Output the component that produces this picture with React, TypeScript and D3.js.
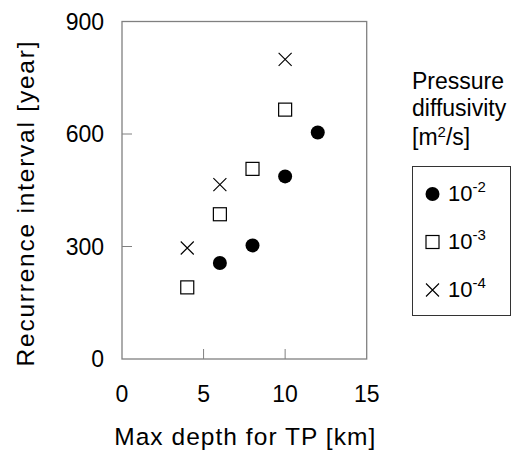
import React from "react";
import * as d3 from "d3";

const depthCircle = [6, 8, 10, 12];
const intervalCircle = [256, 303, 487, 604];
const depthSquare = [4, 6, 8, 10];
const intervalSquare = [191, 386, 507, 665];
const depthCross = [4, 6, 10];
const intervalCross = [296, 465, 799];
const xTicks = [0, 5, 10, 15];
const yTicks = [0, 300, 600, 900];
const legendExps = ["-2", "-3", "-4"];

const FONT = "Liberation Sans, Arial, sans-serif";

export default function App() {
  const x = d3.scaleLinear().domain([0, 15]).range([122, 366.7]);
  const y = d3.scaleLinear().domain([0, 900]).range([359, 21.5]);
  const axisColor = "#808080";

  const circle = (cx: number, cy: number, key: string) => (
    <circle key={key} cx={cx} cy={cy} r={7} fill="#000" />
  );
  const square = (cx: number, cy: number, key: string) => (
    <rect key={key} x={cx - 6.5} y={cy - 6.5} width={13} height={13} fill="#fff" stroke="#000" strokeWidth={1.2} />
  );
  const cross = (cx: number, cy: number, key: string) => (
    <path key={key} d={`M${cx - 6.5},${cy - 6.5}L${cx + 6.5},${cy + 6.5}M${cx - 6.5},${cy + 6.5}L${cx + 6.5},${cy - 6.5}`} stroke="#000" strokeWidth={1.1} fill="none" />
  );

  const legendRows = [194, 242, 290];
  const markers = [circle, square, cross];

  return (
    <svg width={515} height={450} style={{ position: "absolute", left: 0, top: 0 }} fontFamily={FONT}>
      <rect x={0} y={0} width={515} height={450} fill="#fff" />
      <rect x={x(0)} y={y(900)} width={x(15) - x(0)} height={y(0) - y(900)} fill="none" stroke={axisColor} strokeWidth={1.3} />
      {[5, 10].map((t) => (
        <line key={"xt" + t} x1={x(t)} x2={x(t)} y1={y(0)} y2={y(0) - 10} stroke={axisColor} strokeWidth={1} />
      ))}
      {[300, 600].map((t) => (
        <line key={"yt" + t} x1={x(0)} x2={x(0) + 10} y1={y(t)} y2={y(t)} stroke={axisColor} strokeWidth={1} />
      ))}
      {xTicks.map((t) => (
        <text key={"xl" + t} x={x(t)} y={402} textAnchor="middle" fontSize={23} fill="#000">{t}</text>
      ))}
      {yTicks.map((t) => (
        <text key={"yl" + t} x={104} y={y(t) + 8} textAnchor="end" fontSize={23} fill="#000">{t}</text>
      ))}
      <text x={244.7} y={445} textAnchor="middle" fontSize={24.5} fill="#000" textLength={261} lengthAdjust="spacing">Max depth for TP [km]</text>
      <text transform={`translate(34,204) rotate(-90)`} textAnchor="middle" fontSize={24.5} fill="#000" textLength={325} lengthAdjust="spacing">Recurrence interval [year]</text>
      {depthSquare.map((d, i) => square(x(d), y(intervalSquare[i]), "s" + i))}
      {depthCross.map((d, i) => cross(x(d), y(intervalCross[i]), "c" + i))}
      {depthCircle.map((d, i) => circle(x(d), y(intervalCircle[i]), "o" + i))}
      <text x={412} y={88.5} fontSize={23} fill="#000">Pressure</text>
      <text x={412} y={115.5} fontSize={23} fill="#000">diffusivity</text>
      <text x={412} y={145} fontSize={23} fill="#000">
        [m<tspan dy={-8} fontSize={15}>2</tspan><tspan dy={8}>/s]</tspan>
      </text>
      <rect x={412.5} y={166.5} width={98} height={149} fill="#fff" stroke="#333" strokeWidth={1} />
      {legendExps.map((e, i) => (
        <g key={"lg" + i}>
          {markers[i](432.5, legendRows[i], "lm" + i)}
          <text x={448} y={legendRows[i] + 7} fontSize={22} fill="#000">
            10<tspan dy={-9} fontSize={15}>{e}</tspan>
          </text>
        </g>
      ))}
    </svg>
  );
}
